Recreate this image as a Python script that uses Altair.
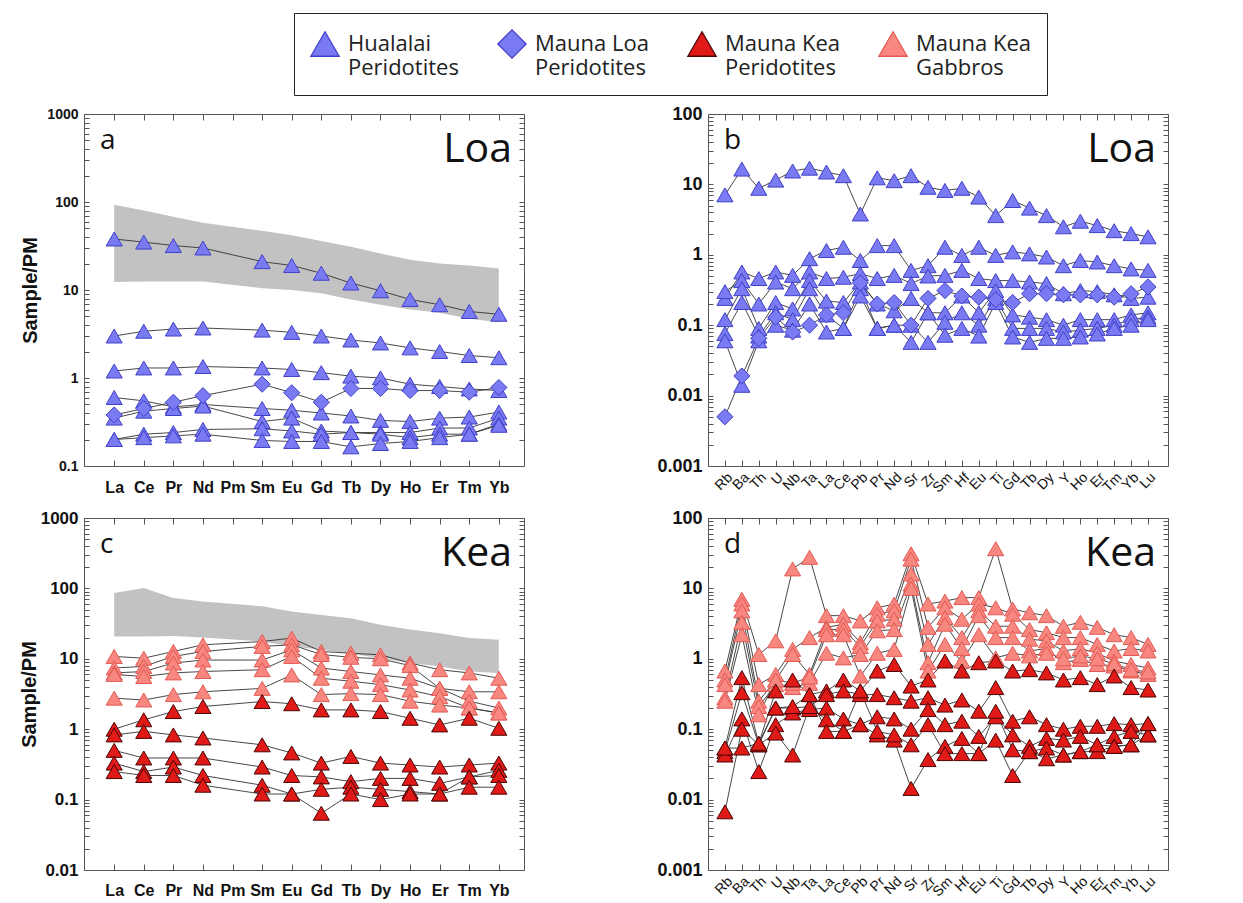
import json
import altair as alt
import pandas as pd

# ---------------- categories ----------------
REE = ["La", "Ce", "Pr", "Nd", "Pm", "Sm", "Eu", "Gd", "Tb", "Dy", "Ho", "Er", "Tm", "Yb"]
SPIDER = ["Rb", "Ba", "Th", "U", "Nb", "Ta", "La", "Ce", "Pb", "Pr", "Nd", "Sr", "Zr",
          "Sm", "Hf", "Eu", "Ti", "Gd", "Tb", "Dy", "Y", "Ho", "Er", "Tm", "Yb", "Lu"]
GROUPS = ["Hualalai Peridotites", "Mauna Loa Peridotites", "Mauna Kea Peridotites", "Mauna Kea Gabbros"]
FILLS = ["#7a7af2", "#7a7af2", "#e01a17", "#f7877f"]
STROKES = ["#4040c8", "#4040c8", "#4a0505", "#e35a55"]
SHAPES = ["triangle-up", "diamond", "triangle-up", "triangle-up"]

# ---------------- panel a (REE, Loa) ----------------
A_BAND_HI = [93, 80, 68, 58, None, 47, 42, 36, 31, 26, 22, 20, 19, 17.5]
A_BAND_LO = [12.3, 12.5, 12.5, 12.5, None, 10.5, 10.0, 9.2, 7.8, 6.8, 6.0, 5.5, 4.7, 4.3]
A_HUALALAI = [
    [38, 35, 32, 30, None, 21, 19, 15.5, 12, 9.8, 7.8, 6.8, 5.7, 5.3],
    [3.0, 3.4, 3.6, 3.7, None, 3.5, 3.3, 3.0, 2.7, 2.5, 2.2, 2.0, 1.8, 1.7],
    [1.2, 1.3, 1.3, 1.35, None, 1.3, 1.25, 1.15, 1.05, 1.0, 0.85, 0.8, 0.75, 0.72],
    [0.6, 0.55, 0.47, 0.5, None, 0.45, 0.43, 0.4, 0.37, 0.33, 0.32, 0.35, 0.36, 0.41],
    [0.35, 0.42, 0.45, 0.48, None, 0.32, 0.35, 0.25, 0.24, 0.24, 0.24, 0.27, 0.27, 0.35],
    [0.2, 0.23, 0.24, 0.26, None, 0.265, 0.25, 0.23, 0.24, 0.23, 0.21, 0.23, 0.23, 0.3],
    [0.2, 0.21, 0.22, 0.23, None, 0.195, 0.19, 0.19, 0.165, 0.18, 0.19, 0.21, 0.23, 0.29],
]
A_MAUNA_LOA = [
    [0.38, 0.45, 0.53, 0.63, None, 0.85, 0.68, 0.53, 0.76, 0.76, 0.72, 0.72, 0.69, 0.78],
]

# ---------------- panel b (spider, Loa) ----------------
B_HUALALAI = [
    [7.1, 16.5, 8.8, 11.5, 15.5, 17, 15, 13.3, 3.8, 12.4, 11.3, 13.3, 9.1, 8.2, 8.8, 6.6, 3.6, 5.9, 4.6, 3.6, 2.5, 3.0, 2.6, 2.2, 2.0, 1.8],
    [0.24, 0.57, 0.46, 0.57, 0.51, 0.88, 1.15, 1.28, 0.83, 1.35, 1.35, 0.6, 0.7, 1.28, 0.98, 1.28, 0.98, 1.1, 1.03, 0.93, 0.7, 0.83, 0.79, 0.7, 0.63, 0.6],
    [0.3, 0.43, 0.2, 0.41, 0.33, 0.57, 0.46, 0.48, 0.54, 0.46, 0.51, 0.39, 0.5, 0.51, 0.6, 0.46, 0.43, 0.43, 0.41, 0.39, 0.28, 0.31, 0.3, 0.27, 0.24, 0.25],
    [0.12, 0.33, 0.09, 0.21, 0.17, 0.43, 0.22, 0.21, 0.41, 0.2, 0.16, 0.24, 0.15, 0.15, 0.26, 0.15, 0.31, 0.14, 0.13, 0.12, 0.1, 0.12, 0.12, 0.12, 0.14, 0.15],
    [0.076, 0.21, 0.07, 0.15, 0.12, 0.33, 0.14, 0.09, 0.33, 0.09, 0.1, 0.1, 0.057, 0.11, 0.15, 0.1, 0.24, 0.09, 0.09, 0.09, 0.08, 0.085, 0.09, 0.1, 0.12, 0.13],
    [0.06, 0.014, 0.06, 0.1, 0.085, 0.2, 0.08, 0.09, 0.26, 0.09, 0.1, 0.057, 0.15, 0.072, 0.09, 0.07, 0.21, 0.068, 0.057, 0.065, 0.065, 0.068, 0.075, 0.09, 0.1, 0.12],
]
B_MAUNA_LOA = [
    [0.005, 0.019, 0.065, 0.13, 0.08, 0.1, 0.14, 0.15, 0.4, 0.2, 0.21, 0.1, 0.24, 0.31, 0.26, 0.25, 0.23, 0.21, 0.28, 0.28, 0.27, 0.27, 0.27, 0.25, 0.28, 0.35],
]

# ---------------- panel c (REE, Kea) ----------------
C_BAND_HI = [86, 101, 73, 65, None, 55.6, 47, 42, 37.6, 30.5, 26, 23, 19.7, 18.6]
C_BAND_LO = [20.7, 20.7, 21, 20, None, 17.6, 15, 13.4, 11.8, 10.2, 8.7, 7.8, 6.6, 6.3]
C_KEA_GABBRO = [
    [10.8, 10.2, 12.7, 15.8, None, 17.6, 19.7, 12.7, 12, 11.4, 8.7, 7.0, 6.3, 5.3],
    [7.4, 7.8, 10.8, 12.7, None, 15, 15.8, 11.5, 10.5, 10, 8.0, 3.8, 3.4, 3.4],
    [6.3, 6.6, 8.7, 9.6, None, 9.6, 13.4, 7.4, 6.6, 5.9, 5.3, 3.8, 2.5, 2.0],
    [6.0, 5.6, 6.3, 6.6, None, 7.0, 10.8, 5.3, 4.8, 4.3, 3.6, 2.9, 2.0, 1.7],
    [2.76, 2.6, 3.1, 3.4, None, 3.8, 5.9, 3.1, 3.2, 3.1, 2.5, 2.2, 2.0, 1.7],
]
C_KEA_PERID = [
    [1.0, 1.36, 1.78, 2.1, None, 2.47, 2.3, 1.88, 1.88, 1.78, 1.43, 1.15, 1.43, 1.03],
    [0.83, 0.93, 0.83, 0.75, None, 0.6, 0.46, 0.33, 0.41, 0.33, 0.31, 0.29, 0.31, 0.33],
    [0.5, 0.39, 0.39, 0.39, None, 0.29, 0.22, 0.21, 0.18, 0.2, 0.2, 0.17, 0.21, 0.26],
    [0.33, 0.25, 0.29, 0.22, None, 0.16, 0.12, 0.14, 0.15, 0.14, 0.13, 0.12, 0.21, 0.22],
    [0.25, 0.22, 0.22, 0.16, None, 0.12, 0.12, 0.064, 0.12, 0.1, 0.12, 0.12, 0.15, 0.15],
]

# ---------------- panel d (spider, Kea) ----------------
D_KEA_GABBRO = [
    [0.67, 7.0, 1.15, 1.8, 18.9, 27.6, 4.1, 4.1, 3.45, 5.3, 6.0, 31, 6.0, 6.6, 7.4, 7.4, 36.6, 5.1, 4.5, 4.1, 2.9, 3.3, 2.8, 2.2, 2.0, 1.6],
    [0.5, 6.0, 0.43, 0.6, 1.36, 2.0, 2.8, 3.1, 1.7, 4.3, 4.8, 26, 2.8, 5.3, 3.65, 6.0, 5.3, 4.3, 2.6, 2.35, 2.0, 2.0, 1.6, 1.29, 1.4, 1.29],
    [0.43, 4.8, 0.25, 0.5, 1.15, 0.6, 2.6, 2.6, 1.5, 3.45, 3.65, 16, 1.6, 3.85, 2.0, 4.8, 2.9, 2.9, 1.9, 1.8, 1.29, 1.4, 1.2, 0.93, 0.83, 0.74],
    [0.28, 3.3, 0.21, 0.43, 0.39, 0.45, 1.2, 1.03, 1.15, 2.5, 2.6, 11.5, 0.88, 3.1, 1.4, 4.1, 2.0, 2.0, 1.29, 1.4, 0.88, 0.98, 0.83, 0.79, 0.67, 0.6],
    [0.25, 2.2, 0.16, 0.5, 0.45, 0.55, 2.2, 2.2, 0.57, 1.2, 1.36, 10, 0.67, 1.6, 0.93, 2.2, 1.03, 1.2, 1.1, 1.2, 1.0, 1.1, 1.0, 0.85, 0.7, 0.65],
]
D_KEA_PERID = [
    [0.054, 0.54, 0.063, 0.35, 0.5, 0.31, 0.35, 0.5, 0.35, 0.67, 0.83, 0.41, 0.5, 0.93, 0.67, 0.88, 0.93, 0.67, 0.7, 0.63, 0.5, 0.54, 0.43, 0.57, 0.39, 0.36],
    [0.048, 0.33, 0.06, 0.2, 0.2, 0.21, 0.31, 0.35, 0.31, 0.31, 0.28, 0.25, 0.28, 0.22, 0.26, 0.18, 0.39, 0.13, 0.15, 0.116, 0.1, 0.11, 0.11, 0.12, 0.116, 0.12],
    [0.043, 0.14, 0.025, 0.116, 0.17, 0.19, 0.2, 0.14, 0.116, 0.15, 0.14, 0.1, 0.19, 0.116, 0.13, 0.079, 0.15, 0.083, 0.057, 0.074, 0.07, 0.079, 0.06, 0.079, 0.093, 0.083],
    [0.0067, 0.1, 0.06, 0.088, 0.043, 0.21, 0.136, 0.093, 0.116, 0.083, 0.07, 0.0144, 0.037, 0.057, 0.074, 0.045, 0.07, 0.022, 0.048, 0.054, 0.043, 0.048, 0.048, 0.057, 0.06, 0.083],
    [0.054, 0.054, 0.063, 0.2, 0.21, 0.31, 0.093, 0.093, 0.35, 0.093, 0.083, 0.06, 0.116, 0.045, 0.045, 0.045, 0.18, 0.051, 0.048, 0.038, 0.043, 0.048, 0.06, 0.057, 0.06, 0.12],
]


def to_long(cats, sets):
    rows = []
    for group, series_list in sets:
        for k, vals in enumerate(series_list):
            for i, v in enumerate(vals):
                if v is None:
                    continue
                rows.append(dict(idx=i, el=cats[i], val=v, group=group, series=f"{group} {k}"))
    return pd.DataFrame(rows)


def to_band(lo, hi):
    return pd.DataFrame([dict(idx=i, lo=l, hi=h) for i, (l, h) in enumerate(zip(lo, hi)) if l is not None])


def log_ticks(e0, e1):
    vals = []
    for e in range(e0, e1):
        for m in range(1, 10):
            vals.append(round(m * 10 ** e, 8))
    vals.append(10 ** e1 if e1 >= 0 else round(10 ** e1, 8))
    return vals


LEG = alt.Legend(
    title=None,
    labelExpr="[slice(datum.label, 0, lastindexof(datum.label, ' ')), slice(datum.label, lastindexof(datum.label, ' ') + 1)]",
)
LABEL_Y = "abs(log(datum.value)/LN10 - round(log(datum.value)/LN10)) < 0.001 ? datum.label : ''"


def panel(df, cats, xdom, e0, e1, w, h, letter, name, ytitle, ylab_size, title_pad,
          rotated, xlab_pad, band=None):
    yvals = log_ticks(e0, e1)
    xs = alt.Scale(domain=xdom, nice=False, zero=False)
    ys = alt.Scale(type="log", domain=[10 ** e0, 10 ** e1], nice=False)
    lab_expr = json.dumps(cats) + "[datum.value]"
    xaxis = alt.Axis(
        values=list(range(len(cats))), labelExpr=lab_expr, grid=False, domain=False,
        tickSize=6, offset=-6, tickColor="#555", labelFont="Arial",
        labelFontWeight="normal" if rotated else "bold",
        labelFontSize=14 if rotated else 16, labelAngle=315 if rotated else 0,
        labelOverlap=False, labelPadding=xlab_pad, labelColor="#111", title=None,
    )
    yaxis = alt.Axis(
        values=yvals, format="~g", labelExpr=LABEL_Y, grid=False, domain=False,
        tickSize=5, offset=-5, tickColor="#555", labelFont="Arial", labelFontWeight="bold",
        labelFontSize=ylab_size, labelPadding=6, labelColor="#111", labelOverlap=False,
        title=ytitle if ytitle else None, titleFont="Arial", titleFontWeight="bold",
        titleFontSize=20, titlePadding=title_pad, titleColor="#111",
    )
    top_axis = alt.Axis(orient="top", values=list(range(len(cats))), labels=False, grid=False,
                        domain=False, tickSize=6, offset=-6, tickColor="#555", title=None)
    right_axis = alt.Axis(orient="right", values=yvals, labels=False, grid=False,
                          domain=False, tickSize=5, offset=-5, tickColor="#555", title=None)

    layers = []
    if band is not None:
        layers.append(
            alt.Chart(band).mark_area(color="#c2c2c2", opacity=1).encode(
                x=alt.X("idx:Q", scale=xs, axis=None),
                y=alt.Y("lo:Q", scale=ys, axis=None),
                y2="hi:Q",
            )
        )
    layers.append(
        alt.Chart(df).mark_line(color="#333333", strokeWidth=0.9).encode(
            x=alt.X("idx:Q", scale=xs, axis=None),
            y=alt.Y("val:Q", scale=ys, axis=None),
            detail="series:N",
        )
    )
    layers.append(
        alt.Chart(df).mark_point(filled=True, opacity=1, size=260, strokeWidth=1).encode(
            x=alt.X("idx:Q", scale=xs, axis=xaxis),
            y=alt.Y("val:Q", scale=ys, axis=yaxis),
            color=alt.Color("group:N", scale=alt.Scale(domain=GROUPS, range=FILLS), legend=LEG),
            shape=alt.Shape("group:N", scale=alt.Scale(domain=GROUPS, range=SHAPES), legend=LEG),
            stroke=alt.Stroke("group:N", scale=alt.Scale(domain=GROUPS, range=STROKES), legend=LEG),
        )
    )
    layers.append(
        alt.Chart(df).mark_point(opacity=0).encode(
            x=alt.X("idx:Q", scale=xs, axis=top_axis),
            y=alt.Y("val:Q", scale=ys, axis=right_axis),
        )
    )
    layers.append(
        alt.Chart(pd.DataFrame({"t": [letter]})).mark_text(
            align="left", baseline="middle", font="Open Sans", fontSize=28, color="#111"
        ).encode(text="t:N", x=alt.value(16), y=alt.value(27))
    )
    layers.append(
        alt.Chart(pd.DataFrame({"t": [name]})).mark_text(
            align="right", baseline="alphabetic",
            font="Liberation Sans Narrow, Open Sans", fontSize=41, color="#111"
        ).encode(text="t:N", x=alt.value(w - 12), y=alt.value(48))
    )
    return alt.layer(*layers).resolve_axis(x="independent", y="independent").properties(
        width=w, height=h
    )


df_a = to_long(REE, [(GROUPS[0], A_HUALALAI), (GROUPS[1], A_MAUNA_LOA)])
df_b = to_long(SPIDER, [(GROUPS[0], B_HUALALAI), (GROUPS[1], B_MAUNA_LOA)])
df_c = to_long(REE, [(GROUPS[3], C_KEA_GABBRO), (GROUPS[2], C_KEA_PERID)])
df_d = to_long(SPIDER, [(GROUPS[3], D_KEA_GABBRO), (GROUPS[2], D_KEA_PERID)])

XD_REE = [-1.02, 13.85]
XD_SP = [-1.0, 26.18]

pa = panel(df_a, REE, XD_REE, -1, 3, 440, 352, "a", "Loa", "Sample/PM", 14, 6, False, 13,
           band=to_band(A_BAND_LO, A_BAND_HI))
pb = panel(df_b, SPIDER, XD_SP, -3, 2, 460, 352, "b", "Loa", None, 18, 4, True, 4)
pc = panel(df_c, REE, XD_REE, -2, 3, 440, 352, "c", "Kea", "Sample/PM", 17, 1, False, 12,
           band=to_band(C_BAND_LO, C_BAND_HI))
pd_ = panel(df_d, SPIDER, XD_SP, -3, 2, 460, 352, "d", "Kea", None, 18, 4, True, 4)

row1 = alt.hconcat(pa, pb, spacing=131)
row2 = alt.hconcat(pc, pd_, spacing=131)

chart = (
    alt.vconcat(row1, row2, spacing=12)
    .resolve_scale(color="shared", shape="shared", stroke="shared")
    .properties(padding={"left": 18, "top": 12, "right": 5, "bottom": 5}, background="white")
    .configure_view(stroke="#555", strokeWidth=1)
    .configure_legend(
        orient="none", legendX=210, legendY=-101, direction="horizontal", columns=4,
        symbolSize=800, symbolStrokeWidth=1.3, symbolOpacity=1,
        labelFont="Open Sans", labelFontSize=22, labelColor="#222", labelOffset=8,
        labelLimit=300, columnPadding=36, padding=16, strokeColor="#222",
        fillColor="white", labelBaseline="middle",
    )
)

chart.save("out.html", embed_options={"renderer": "svg", "actions": False})
